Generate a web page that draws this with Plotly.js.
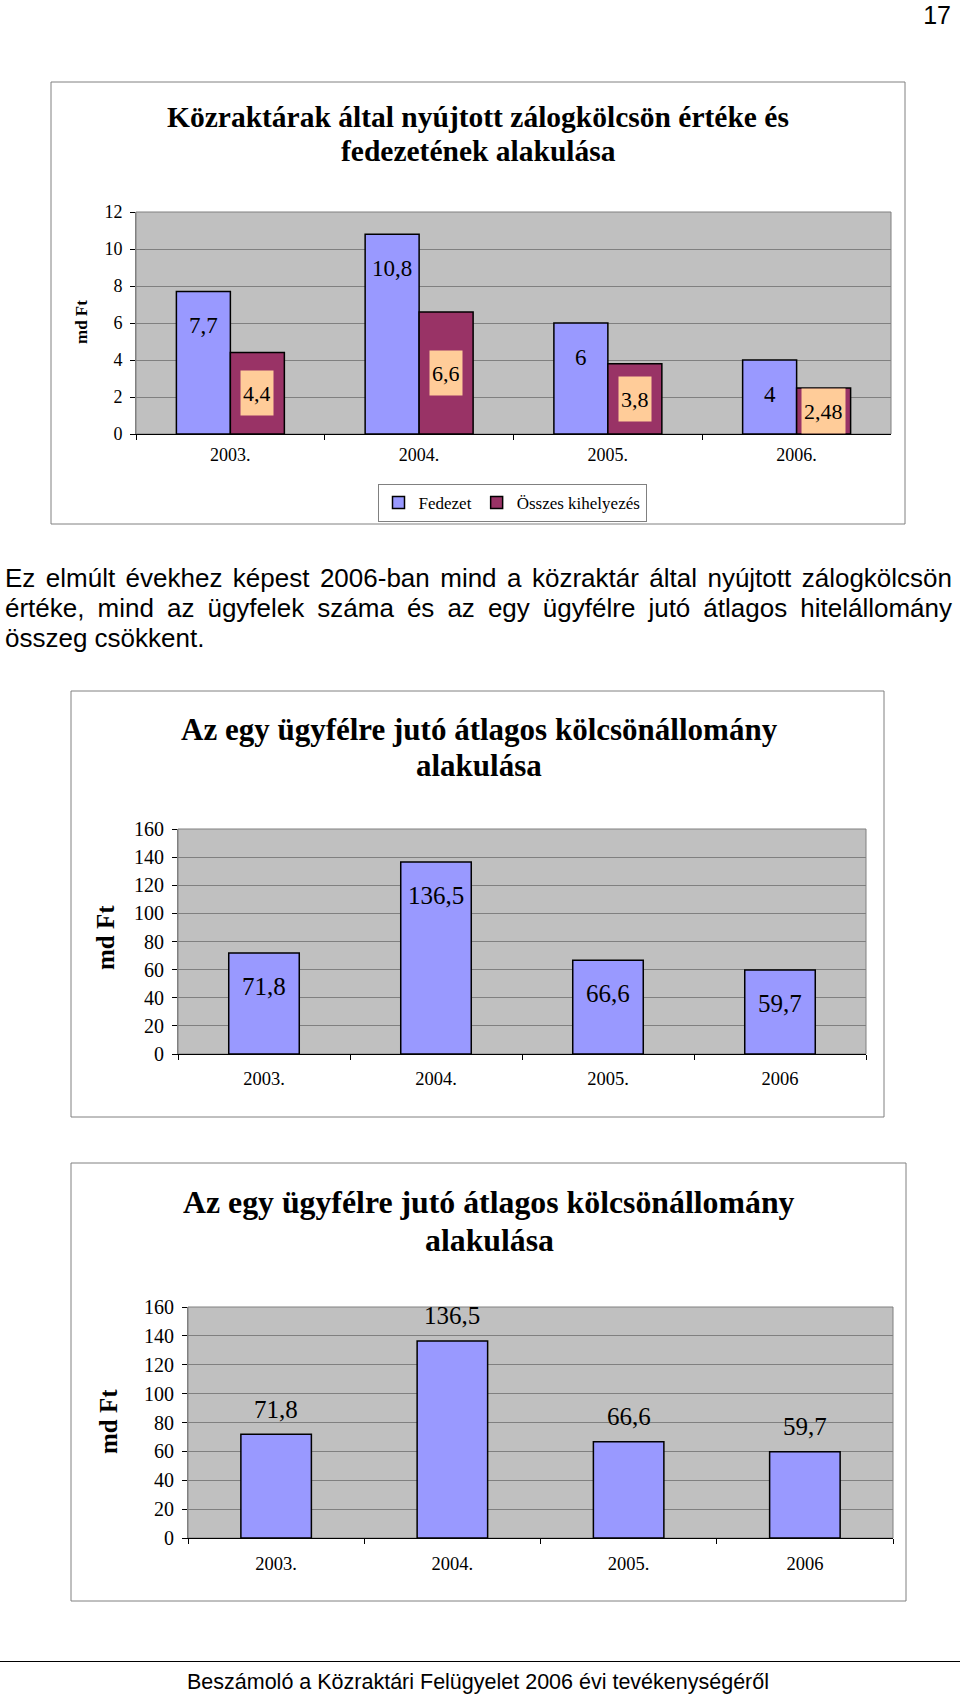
<!DOCTYPE html>
<html>
<head>
<meta charset="utf-8">
<script src="https://cdn.plot.ly/plotly-3.0.1.min.js"></script>
<style>
  html, body { margin: 0; padding: 0; background: #ffffff; }
  #page { position: relative; width: 960px; height: 1696px; overflow: hidden; background: #fff; }
  #chart { position: absolute; left: 0; top: 0; width: 960px; height: 1696px; }
  .txt { position: absolute; font-family: "Liberation Sans", Arial, sans-serif; color: #000; }
  .para { left: 5px; width: 947px; font-size: 26px; line-height: 30px; }
  .para div { white-space: nowrap; }
  .just { text-align: justify; text-align-last: justify; }
</style>
</head>
<body>
<div id="page">
  <div id="chart"></div>
  <div class="txt" style="right:9px; top:0px; font-size:25px; line-height:30px;">17</div>
  <div class="txt para" style="top:563px;">
    <div class="just">Ez elmúlt évekhez képest 2006-ban mind a közraktár által nyújtott zálogkölcsön</div>
    <div class="just">értéke, mind az ügyfelek száma és az egy ügyfélre jutó átlagos hitelállomány</div>
    <div>összeg csökkent.</div>
  </div>
  <div style="position:absolute; left:0; top:1661px; width:960px; height:0; border-top:1.5px solid #000;"></div>
  <div class="txt" style="left:0; width:956px; top:1668px; font-size:21.5px; line-height:28px; text-align:center;">Beszámoló a Közraktári Felügyelet 2006 évi tevékenységéről</div>
</div>
<script>
// ---- Chart 1 data ----
const years1 = ['2003.', '2004.', '2005.', '2006.'];
const fedezet = [7.7, 10.8, 6, 4];
const osszes = [4.4, 6.6, 3.8, 2.48];
const fedezetLabels = ['7,7', '10,8', '6', '4'];
const osszesLabels = ['4,4', '6,6', '3,8', '2,48'];
const yTicks1 = [0, 2, 4, 6, 8, 10, 12];

// ---- Chart 2 / 3 data ----
const years2 = ['2003.', '2004.', '2005.', '2006'];
const avgLoan = [71.8, 136.5, 66.6, 59.7];
const avgLabels = ['71,8', '136,5', '66,6', '59,7'];
const yTicks2 = [0, 20, 40, 60, 80, 100, 120, 140, 160];

const title1a = 'Közraktárak által nyújtott zálogkölcsön értéke és';
const title1b = 'fedezetének alakulása';
const title2a = 'Az egy ügyfélre jutó átlagos kölcsönállomány';
const title2b = 'alakulása';
const yTitle = 'md Ft';

// ---- geometry helpers ----
const W = 960, H = 1696;
const px = v => v / W;
const py = v => 1 - v / H;
const SERIF = '"Liberation Serif", "Times New Roman", serif';

const BLUE = '#9999FF', PLUM = '#993366', PEACH = '#FFCC99';
const barLine = {color: '#000000', width: 1.5};

const traces = [
  {type: 'bar', name: 'Fedezet', x: years1, y: fedezet, xaxis: 'x', yaxis: 'y',
   width: 0.286, offset: -0.286, marker: {color: BLUE, line: barLine}, hoverinfo: 'skip'},
  {type: 'bar', name: 'Összes kihelyezés', x: years1, y: osszes, xaxis: 'x', yaxis: 'y',
   width: 0.286, offset: 0, marker: {color: PLUM, line: barLine}, hoverinfo: 'skip'},
  {type: 'bar', name: 'avg2', x: years2, y: avgLoan, xaxis: 'x2', yaxis: 'y2', showlegend: false,
   width: 0.41, marker: {color: BLUE, line: barLine}, hoverinfo: 'skip'},
  {type: 'bar', name: 'avg3', x: years2, y: avgLoan, xaxis: 'x3', yaxis: 'y3', showlegend: false,
   width: 0.40, marker: {color: BLUE, line: barLine}, hoverinfo: 'skip'}
];

function xAxis(dom, anchor, cats, fs, standoff) {
  return {domain: dom, anchor: anchor, type: 'category', categoryorder: 'array', categoryarray: cats,
    range: [-0.5, cats.length - 0.5], tickson: 'boundaries', ticks: 'outside', ticklen: 5,
    tickcolor: '#000', showline: true, linecolor: '#000', linewidth: 1, showgrid: false,
    tickfont: {family: SERIF, size: fs, color: '#000'}, ticklabelstandoff: standoff, fixedrange: true};
}
function yAxis(dom, anchor, ticks, fs, standoff) {
  return {domain: dom, anchor: anchor, range: [ticks[0], ticks[ticks.length - 1]], tickvals: ticks,
    ticktext: ticks.map(String), ticks: 'outside', ticklen: 5, tickcolor: '#000',
    showline: true, linecolor: '#808080', linewidth: 1, showgrid: true, gridcolor: '#808080', gridwidth: 1,
    zeroline: false, tickfont: {family: SERIF, size: fs, color: '#000'}, ticklabelstandoff: standoff,
    fixedrange: true};
}

const annotations = [];
function addText(x, y, text, size, bold, extra) {
  annotations.push(Object.assign({xref: 'paper', yref: 'paper', x: px(x), y: py(y), text: bold ? '<b>' + text + '</b>' : text,
    showarrow: false, xanchor: 'center', yanchor: 'middle',
    font: {family: SERIF, size: size, color: '#000'}}, extra || {}));
}
// titles
addText(478, 117, title1a, 29.5, true);
addText(478, 151, title1b, 29.5, true);
addText(479, 729, title2a, 31, true);
addText(479, 766, title2b, 31, true);
addText(489, 1202, title2a, 31.8, true);
addText(489, 1240, title2b, 31.8, true);
// y titles
addText(81, 322, yTitle, 17, true, {textangle: -90});
addText(105, 938, yTitle, 25, true, {textangle: -90});
addText(108, 1422, yTitle, 25, true, {textangle: -90});

// chart 1 value labels (x given as category serial number)
years1.forEach((yr, i) => {
  annotations.push({xref: 'x', yref: 'y', x: i, y: fedezet[i], text: fedezetLabels[i], showarrow: false,
    xshift: -27, yshift: -34, yanchor: 'middle', font: {family: SERIF, size: 23, color: '#000'}});
  annotations.push({xref: 'x', yref: 'y', x: i, y: osszes[i] / 2, text: osszesLabels[i], showarrow: false,
    xshift: 27, yanchor: 'middle', bgcolor: PEACH, borderpad: 2, height: 40,
    font: {family: SERIF, size: 22, color: '#000'}});
});
// chart 2 labels (inside, near top) and chart 3 labels (above)
years2.forEach((yr, i) => {
  annotations.push({xref: 'x2', yref: 'y2', x: i, y: avgLoan[i], text: avgLabels[i], showarrow: false,
    yshift: -33, yanchor: 'middle', font: {family: SERIF, size: 25, color: '#000'}});
  annotations.push({xref: 'x3', yref: 'y3', x: i, y: avgLoan[i], text: avgLabels[i], showarrow: false,
    yshift: 25, yanchor: 'middle', font: {family: SERIF, size: 25, color: '#000'}});
});

function box(x0, y0, x1, y1) {
  return {type: 'rect', xref: 'paper', yref: 'paper', x0: px(x0), x1: px(x1), y0: py(y1), y1: py(y0),
    line: {color: '#808080', width: 1}, fillcolor: 'rgba(0,0,0,0)', layer: 'below'};
}
function plotBox(xa, ya) {
  return {type: 'rect', xref: xa + ' domain', yref: ya + ' domain', x0: 0, x1: 1, y0: 0, y1: 1,
    line: {color: '#808080', width: 1}, fillcolor: 'rgba(0,0,0,0)', layer: 'below'};
}

const layout = {
  width: W, height: H,
  margin: {l: 0, r: 0, t: 0, b: 0},
  paper_bgcolor: 'rgba(0,0,0,0)',
  plot_bgcolor: '#C0C0C0',
  barmode: 'overlay',
  showlegend: true,
  legend: {orientation: 'h', x: px(512), y: py(503), xanchor: 'center', yanchor: 'middle',
    bordercolor: '#808080', borderwidth: 1, bgcolor: '#ffffff',
    font: {family: SERIF, size: 17, color: '#000'}, itemwidth: 30, itemclick: false, itemdoubleclick: false},
  xaxis: xAxis([px(136), px(891)], 'y', years1, 18, 4),
  yaxis: yAxis([py(434), py(212)], 'x', yTicks1, 18, 4),
  xaxis2: xAxis([px(178), px(866)], 'y2', years2, 18.5, 8),
  yaxis2: yAxis([py(1054), py(829)], 'x2', yTicks2, 20, 4),
  xaxis3: xAxis([px(188), px(893)], 'y3', years2, 18.5, 9),
  yaxis3: yAxis([py(1538), py(1307)], 'x3', yTicks2, 20, 4),
  annotations: annotations,
  shapes: [box(51, 82, 905, 524), box(71, 691, 884, 1117), box(71, 1163, 906, 1601),
    plotBox('x', 'y'), plotBox('x2', 'y2'), plotBox('x3', 'y3')]
};

Plotly.newPlot('chart', traces, layout, {staticPlot: true, displayModeBar: false});
</script>
</body>
</html>
